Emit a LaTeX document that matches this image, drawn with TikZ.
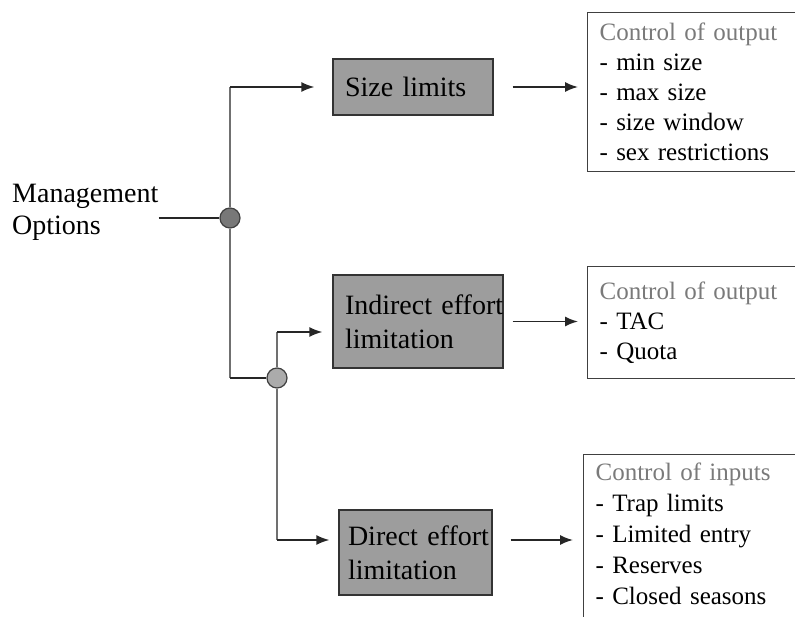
\documentclass[tikz,border=0pt]{standalone}
\usepackage{fontspec}
\setmainfont{Liberation Serif}
\usetikzlibrary{positioning,arrows.meta}
\definecolor{boxgray}{HTML}{9D9D9D}
\definecolor{linegray}{HTML}{707070}
\definecolor{darkjunc}{HTML}{787878}
\definecolor{lightjunc}{HTML}{ABABAB}
\definecolor{hdrgray}{HTML}{7A7A7A}

\begin{document}
\begin{tikzpicture}[
  x=1pt,y=-1pt,
  optbox/.style={draw=black!80,fill=boxgray,line width=1.2pt,inner xsep=12pt,inner ysep=0pt,align=left,text width=#1,font=\fontsize{28}{34}\selectfont},
  ctrlbox/.style={draw=black!75,line width=1.2pt,anchor=north west,inner xsep=12pt,inner ysep=8pt,text width=240pt,align=left,font=\fontsize{25}{30}\selectfont},
  mgmtlabel/.style={anchor=west,inner sep=0pt,align=left,font=\fontsize{28}{32}\selectfont},
  junc/.style={draw=black!75,line width=1.2pt,circle,minimum size=20pt,inner sep=0pt},
  vline/.style={draw=linegray,line width=2pt},
  hline/.style={draw=black!85,line width=1.6pt},
  arr/.style={hline,-{Latex[length=13pt,width=10pt]}}
]
\useasboundingbox (0,0) rectangle (795,617);
\clip (0,0) rectangle (795,617);

\node[mgmtlabel] (mgmt) at (12,212) {Management\\Options};
\node[junc,fill=darkjunc] (c1) at (230,218) {};
\node[junc,fill=lightjunc] (c2) at (277,378) {};

\node[optbox=136pt,minimum height=56pt] (size) at (413,87) {Size limits};
\node[optbox=146pt,minimum height=93pt] (indirect) at (418,321.5) {\mbox{Indirect effort}\\limitation};
\node[optbox=135pt,inner xsep=9pt,minimum height=85pt] (direct) at (415.5,552.5) {\mbox{Direct effort}\\limitation};

\node[ctrlbox,minimum height=159pt] (ctrl1) at (587,12)
  {{\color{hdrgray}Control of output}\\- min size\\- max size\\- size window\\- sex restrictions};
\node[ctrlbox,minimum height=112pt] (ctrl2) at (587,266)
  {{\color{hdrgray}Control of output}\\- TAC\\- Quota};
\node[ctrlbox] (ctrl3) at (583,454)
  {{\color{hdrgray}Control of inputs}\\[1pt]- Trap limits\\[1pt]- Limited entry\\[1pt]- Reserves\\[1pt]- Closed seasons\\\strut};

\coordinate (top) at (c1 |- size);
\coordinate (bend) at (c1 |- c2);
\coordinate (up) at (277,332);
\coordinate (down) at (277,540);

% tree of options
\draw[hline] (mgmt.east |- c1) -- (c1);
\draw[vline] (c1) -- (top);
\draw[vline] (c1) -- (bend);
\draw[hline] (bend) -- (c2);
\draw[vline] (c2) -- (up);
\draw[vline] (c2) -- (down);

\draw[arr,shorten >=18pt] (top) -- (size);
\draw[arr,shorten >=10pt] (up) -- (up -| indirect.west);
\draw[arr,shorten >=9pt] (down) -- (down -| direct.west);

% to the controls
\draw[arr,shorten <=19pt,shorten >=9pt] (size.east) -- (size.east -| ctrl1.west);
\draw[arr,shorten <=9pt,shorten >=9pt] (indirect.east) -- (indirect.east -| ctrl2.west);
\draw[arr,shorten <=18pt,shorten >=10pt] (direct.east |- down) -- (down -| ctrl3.west);

\end{tikzpicture}
\end{document}
